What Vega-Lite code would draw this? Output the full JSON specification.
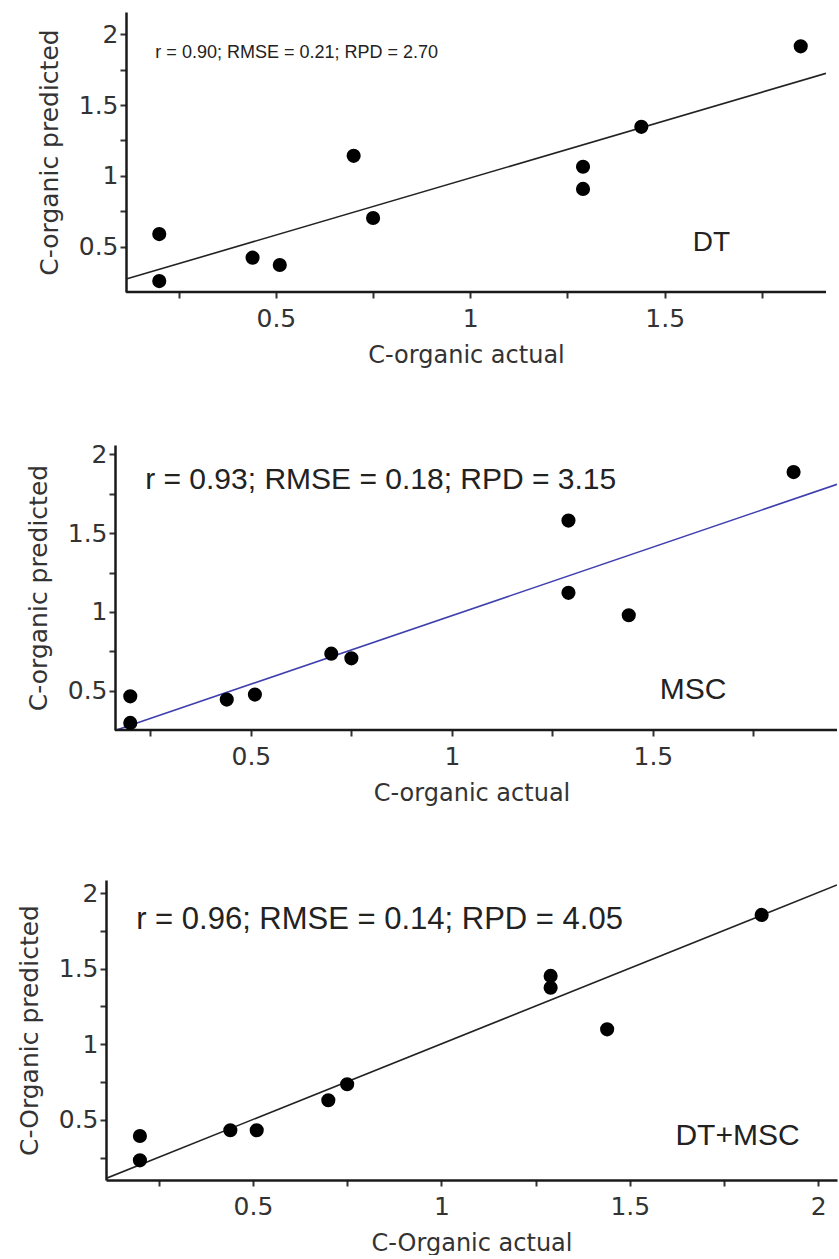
{
  "$schema": "https://vega.github.io/schema/vega-lite/v6.json",
  "background": "white",
  "padding": {"left": 17, "top": 12, "right": 0, "bottom": 0},
  "spacing": 75,
  "config": {
    "view": {"stroke": null},
    "axis": {
      "grid": false,
      "domainColor": "#1a1a1a",
      "domainWidth": 2.5,
      "tickColor": "#333333",
      "tickWidth": 2,
      "tickSize": 6,
      "labelFont": "DejaVu Sans",
      "labelFontSize": 25,
      "labelColor": "#333333",
      "labelFlush": false,
      "labelOverlap": false,
      "titleFont": "DejaVu Sans",
      "titleFontSize": 24,
      "titleFontWeight": "normal",
      "titleColor": "#333333"
    },
    "axisX": {"labelPadding": 8, "titlePadding": 12},
    "axisY": {"labelPadding": 2, "titlePadding": 16, "titleFontSize": 25}
  },
  "datasets": {
    "points": [
      {"panel": "DT", "actual": 0.2, "predicted": 0.591},
      {"panel": "DT", "actual": 0.2, "predicted": 0.26},
      {"panel": "DT", "actual": 0.44, "predicted": 0.425},
      {"panel": "DT", "actual": 0.51, "predicted": 0.373},
      {"panel": "DT", "actual": 0.7, "predicted": 1.142},
      {"panel": "DT", "actual": 0.75, "predicted": 0.704},
      {"panel": "DT", "actual": 1.29, "predicted": 1.065},
      {"panel": "DT", "actual": 1.29, "predicted": 0.909},
      {"panel": "DT", "actual": 1.44, "predicted": 1.346},
      {"panel": "DT", "actual": 1.85, "predicted": 1.913},
      {"panel": "MSC", "actual": 0.2, "predicted": 0.464},
      {"panel": "MSC", "actual": 0.2, "predicted": 0.295},
      {"panel": "MSC", "actual": 0.44, "predicted": 0.443},
      {"panel": "MSC", "actual": 0.51, "predicted": 0.475},
      {"panel": "MSC", "actual": 0.7, "predicted": 0.735},
      {"panel": "MSC", "actual": 0.75, "predicted": 0.705},
      {"panel": "MSC", "actual": 1.29, "predicted": 1.58},
      {"panel": "MSC", "actual": 1.29, "predicted": 1.121},
      {"panel": "MSC", "actual": 1.44, "predicted": 0.979},
      {"panel": "MSC", "actual": 1.85, "predicted": 1.888},
      {"panel": "DT+MSC", "actual": 0.2, "predicted": 0.394},
      {"panel": "DT+MSC", "actual": 0.2, "predicted": 0.233},
      {"panel": "DT+MSC", "actual": 0.44, "predicted": 0.432},
      {"panel": "DT+MSC", "actual": 0.51, "predicted": 0.432},
      {"panel": "DT+MSC", "actual": 0.7, "predicted": 0.63},
      {"panel": "DT+MSC", "actual": 0.75, "predicted": 0.736},
      {"panel": "DT+MSC", "actual": 1.29, "predicted": 1.452},
      {"panel": "DT+MSC", "actual": 1.29, "predicted": 1.374},
      {"panel": "DT+MSC", "actual": 1.44, "predicted": 1.099},
      {"panel": "DT+MSC", "actual": 1.85, "predicted": 1.855}
    ],
    "lines": [
      {"panel": "DT", "actual": 0.115, "predicted": 0.274},
      {"panel": "DT", "actual": 1.915, "predicted": 1.723},
      {"panel": "MSC", "actual": 0.162, "predicted": 0.247},
      {"panel": "MSC", "actual": 1.958, "predicted": 1.81},
      {"panel": "DT+MSC", "actual": 0.11, "predicted": 0.113},
      {"panel": "DT+MSC", "actual": 2.05, "predicted": 2.053}
    ],
    "baselines": [
      {"panel": "DT", "start": 0.115, "end": 1.915, "level": 0.183},
      {"panel": "MSC", "start": 0.162, "end": 1.958, "level": 0.25}
    ],
    "stats": [
      {"panel": "DT", "actual": 0.19, "predicted": 1.866, "text": "r = 0.90; RMSE = 0.21; RPD = 2.70"},
      {"panel": "MSC", "actual": 0.237, "predicted": 1.837, "text": "r = 0.93; RMSE = 0.18; RPD = 3.15"},
      {"panel": "DT+MSC", "actual": 0.19, "predicted": 1.821, "text": "r = 0.96; RMSE = 0.14; RPD = 4.05"}
    ],
    "tags": [
      {"panel": "DT", "actual": 1.62, "predicted": 0.525, "text": "DT"},
      {"panel": "MSC", "actual": 1.6, "predicted": 0.504, "text": "MSC"},
      {"panel": "DT+MSC", "actual": 1.786, "predicted": 0.394, "text": "DT+MSC"}
    ]
  },
  "vconcat": [
    {
      "width": 720,
      "height": 280,
      "layer": [
        {
          "data": {"name": "lines"},
          "transform": [{"filter": "datum.panel == 'DT'"}],
          "mark": {"type": "line", "color": "#222222", "strokeWidth": 1.6, "clip": true},
          "encoding": {
            "x": {"field": "actual", "type": "quantitative", "title": "C-organic actual",
              "scale": {"domain": [0.063, 1.915], "nice": false, "zero": false},
              "axis": {"domain": false, "labelOverlap": false, "values": [0.25, 0.5, 0.75, 1, 1.25, 1.5, 1.75], "format": "~g", "labelExpr": "datum.value % 0.5 == 0 ? datum.label : ''"}},
            "y": {"field": "predicted", "type": "quantitative", "title": "C-organic predicted",
              "scale": {"domain": [0.183, 2.155], "nice": false, "zero": false},
              "axis": {"offset": -20, "labelOverlap": false, "values": [0.5, 0.75, 1, 1.25, 1.5, 1.75, 2], "format": "~g", "labelExpr": "datum.value % 0.5 == 0 ? datum.label : ''"}}
          }
        },
        {
          "data": {"name": "baselines"},
          "transform": [{"filter": "datum.panel == 'DT'"}],
          "mark": {"type": "rule", "color": "#1a1a1a", "strokeWidth": 2.5},
          "encoding": {
            "x": {"field": "start", "type": "quantitative"},
            "x2": {"field": "end"},
            "y": {"field": "level", "type": "quantitative"}
          }
        },
        {
          "data": {"name": "points"},
          "transform": [{"filter": "datum.panel == 'DT'"}],
          "mark": {"type": "circle", "size": 200, "color": "#000000", "opacity": 1},
          "encoding": {
            "x": {"field": "actual", "type": "quantitative"},
            "y": {"field": "predicted", "type": "quantitative"}
          }
        },
        {
          "data": {"name": "stats"},
          "transform": [{"filter": "datum.panel == 'DT'"}],
          "mark": {"type": "text", "align": "left", "baseline": "middle", "font": "Liberation Sans", "fontSize": 18, "color": "#222222"},
          "encoding": {
            "x": {"field": "actual", "type": "quantitative"},
            "y": {"field": "predicted", "type": "quantitative"},
            "text": {"field": "text"}
          }
        },
        {
          "data": {"name": "tags"},
          "transform": [{"filter": "datum.panel == 'DT'"}],
          "mark": {"type": "text", "align": "center", "baseline": "middle", "font": "Liberation Sans", "fontSize": 28, "color": "#222222"},
          "encoding": {
            "x": {"field": "actual", "type": "quantitative"},
            "y": {"field": "predicted", "type": "quantitative"},
            "text": {"field": "text"}
          }
        }
      ]
    },
    {
      "width": 731,
      "height": 285,
      "layer": [
        {
          "data": {"name": "lines"},
          "transform": [{"filter": "datum.panel == 'MSC'"}],
          "mark": {"type": "line", "color": "#3f3fae", "strokeWidth": 1.6, "clip": true},
          "encoding": {
            "x": {"field": "actual", "type": "quantitative", "title": "C-organic actual",
              "scale": {"domain": [0.1396, 1.958], "nice": false, "zero": false},
              "axis": {"domain": false, "labelOverlap": false, "values": [0.25, 0.5, 0.75, 1, 1.25, 1.5, 1.75], "format": "~g", "labelExpr": "datum.value % 0.5 == 0 ? datum.label : ''"}},
            "y": {"field": "predicted", "type": "quantitative", "title": "C-organic predicted",
              "scale": {"domain": [0.25, 2.06], "nice": false, "zero": false},
              "axis": {"offset": -9, "labelOverlap": false, "values": [0.5, 0.75, 1, 1.25, 1.5, 1.75, 2], "format": "~g", "labelExpr": "datum.value % 0.5 == 0 ? datum.label : ''"}}
          }
        },
        {
          "data": {"name": "baselines"},
          "transform": [{"filter": "datum.panel == 'MSC'"}],
          "mark": {"type": "rule", "color": "#1a1a1a", "strokeWidth": 2.5},
          "encoding": {
            "x": {"field": "start", "type": "quantitative"},
            "x2": {"field": "end"},
            "y": {"field": "level", "type": "quantitative"}
          }
        },
        {
          "data": {"name": "points"},
          "transform": [{"filter": "datum.panel == 'MSC'"}],
          "mark": {"type": "circle", "size": 200, "color": "#000000", "opacity": 1},
          "encoding": {
            "x": {"field": "actual", "type": "quantitative"},
            "y": {"field": "predicted", "type": "quantitative"}
          }
        },
        {
          "data": {"name": "stats"},
          "transform": [{"filter": "datum.panel == 'MSC'"}],
          "mark": {"type": "text", "align": "left", "baseline": "middle", "font": "Liberation Sans", "fontSize": 30, "color": "#222222"},
          "encoding": {
            "x": {"field": "actual", "type": "quantitative"},
            "y": {"field": "predicted", "type": "quantitative"},
            "text": {"field": "text"}
          }
        },
        {
          "data": {"name": "tags"},
          "transform": [{"filter": "datum.panel == 'MSC'"}],
          "mark": {"type": "text", "align": "center", "baseline": "middle", "font": "Liberation Sans", "fontSize": 30, "color": "#222222"},
          "encoding": {
            "x": {"field": "actual", "type": "quantitative"},
            "y": {"field": "predicted", "type": "quantitative"},
            "text": {"field": "text"}
          }
        }
      ]
    },
    {
      "width": 731,
      "height": 300,
      "layer": [
        {
          "data": {"name": "lines"},
          "transform": [{"filter": "datum.panel == 'DT+MSC'"}],
          "mark": {"type": "line", "color": "#222222", "strokeWidth": 1.6, "clip": true},
          "encoding": {
            "x": {"field": "actual", "type": "quantitative", "title": "C-Organic actual",
              "scale": {"domain": [0.11, 2.05], "nice": false, "zero": false},
              "axis": {"labelOverlap": false, "values": [0.25, 0.5, 0.75, 1, 1.25, 1.5, 1.75, 2], "format": "~g", "labelExpr": "datum.value % 0.5 == 0 ? datum.label : ''"}},
            "y": {"field": "predicted", "type": "quantitative", "title": "C-Organic predicted",
              "scale": {"domain": [0.103, 2.086], "nice": false, "zero": false},
              "axis": {"labelOverlap": false, "values": [0.25, 0.5, 0.75, 1, 1.25, 1.5, 1.75, 2], "format": "~g", "labelExpr": "datum.value % 0.5 == 0 ? datum.label : ''"}}
          }
        },
        {
          "data": {"name": "points"},
          "transform": [{"filter": "datum.panel == 'DT+MSC'"}],
          "mark": {"type": "circle", "size": 200, "color": "#000000", "opacity": 1},
          "encoding": {
            "x": {"field": "actual", "type": "quantitative"},
            "y": {"field": "predicted", "type": "quantitative"}
          }
        },
        {
          "data": {"name": "stats"},
          "transform": [{"filter": "datum.panel == 'DT+MSC'"}],
          "mark": {"type": "text", "align": "left", "baseline": "middle", "font": "Liberation Sans", "fontSize": 31, "color": "#222222"},
          "encoding": {
            "x": {"field": "actual", "type": "quantitative"},
            "y": {"field": "predicted", "type": "quantitative"},
            "text": {"field": "text"}
          }
        },
        {
          "data": {"name": "tags"},
          "transform": [{"filter": "datum.panel == 'DT+MSC'"}],
          "mark": {"type": "text", "align": "center", "baseline": "middle", "font": "Liberation Sans", "fontSize": 30, "color": "#222222"},
          "encoding": {
            "x": {"field": "actual", "type": "quantitative"},
            "y": {"field": "predicted", "type": "quantitative"},
            "text": {"field": "text"}
          }
        }
      ]
    }
  ]
}
